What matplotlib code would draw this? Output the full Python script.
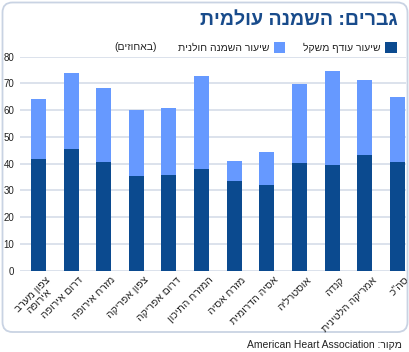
import matplotlib
matplotlib.use('Agg')
import matplotlib.pyplot as plt
from matplotlib.patches import FancyBboxPatch, Rectangle
from matplotlib.transforms import ScaledTranslation, IdentityTransform
import numpy as np

# ---- data (logical Hebrew order) ----
categories = ["צפון מערב\nאירופה", "דרום אירופה", "מזרח אירופה", "צפון אפריקה",
              "דרום אפריקה", "המזרח התיכון", "מזרח אסיה", "אסיה הדרומית",
              "אוסטרליה", "קנדה", "אמריקה הלטינית", 'סה"כ']
overweight = [41.8, 45.4, 40.6, 35.5, 35.6, 38.0, 33.4, 32.2, 40.4, 39.6, 43.1, 40.8]
obese_extra = [22.4, 28.5, 27.8, 24.6, 25.3, 34.7, 7.5, 12.2, 29.3, 35.1, 28.2, 24.3]
yticks = [0, 10, 20, 30, 40, 50, 60, 70, 80]

title = "גברים: השמנה עולמית"
legend_dark = "שיעור עודף משקל"
legend_light = "שיעור השמנה חולנית"
unit_note = "(באחוזים)"
source_label = "מקור:"
source_name = "American Heart Association"

DARK = '#0b4a8f'
LIGHT = '#6699ff'
TITLE_C = '#184b8b'
GRID = '#d6dde9'
BORDER = '#c9d3e3'
FONT = 'Liberation Sans'

_mirror = {'(': ')', ')': '('}


def rtl(s):
    """Convert logical-order Hebrew text to visual order for display."""
    return '\n'.join(''.join(_mirror.get(c, c) for c in line[::-1]) for line in s.split('\n'))


W, H = 410, 352
fig = plt.figure(figsize=(W / 100, H / 100), dpi=100)
fig.patch.set_facecolor('white')

# rounded border panel
border = FancyBboxPatch((2.5, 20), 405, 329.5,
                        boxstyle='round,pad=0,rounding_size=10',
                        transform=IdentityTransform(), facecolor='none',
                        edgecolor=BORDER, linewidth=1.3, zorder=-5)
fig.patches.append(border)

ax = fig.add_axes([20 / W, 1 - 270.7 / H, (406.5 - 20) / W, (270.7 - 56.7) / H])
ax.set_zorder(2)
ax.set_facecolor('none')
x = np.arange(len(categories))
bw = 0.46
ax.bar(x, overweight, width=bw, color=DARK, linewidth=0, zorder=3)
ax.bar(x, obese_extra, bottom=overweight, width=bw, color=LIGHT, linewidth=0, zorder=3)

ax.set_ylim(0, 80)
ax.set_xlim(-0.567, 11.28)
ax.set_yticks(yticks)
ax.yaxis.grid(True, color=GRID, linewidth=1.2, zorder=0)
ax.set_axisbelow(True)
for s in ax.spines.values():
    s.set_visible(False)
ax.tick_params(axis='y', length=0, pad=4, labelsize=7, labelcolor='#222222')
ax.tick_params(axis='x', length=0, pad=3)
for lab in ax.get_yticklabels():
    lab.set_fontfamily(FONT)

ax.set_xticks(x)
ax.set_xticklabels([rtl(c) for c in categories], rotation=45, ha='right', va='top',
                   rotation_mode='anchor', fontsize=7.5, fontfamily=FONT,
                   color='#222222', multialignment='center', linespacing=0.95)
off = ScaledTranslation(6.5 / 100, 0, fig.dpi_scale_trans)
for lab in ax.get_xticklabels():
    lab.set_transform(lab.get_transform() + off)

# title
fig.text(398 / W, 1 - 20.5 / H, rtl(title), ha='right', va='center',
         fontsize=14, fontweight='bold', color=TITLE_C, fontfamily=FONT)

# legend (manual, right-to-left)
fig.patches.append(Rectangle((385, H - 53), 12, 11, transform=IdentityTransform(),
                             facecolor=DARK, edgecolor='none'))
fig.text(381 / W, 1 - 47.5 / H, rtl(legend_dark), ha='right', va='center',
         fontsize=7.5, fontfamily=FONT, color='#222222')
fig.patches.append(Rectangle((274, H - 53), 11, 11, transform=IdentityTransform(),
                             facecolor=LIGHT, edgecolor='none'))
fig.text(270 / W, 1 - 47.5 / H, rtl(legend_light), ha='right', va='center',
         fontsize=7.5, fontfamily=FONT, color='#222222')
fig.text(157 / W, 1 - 47.5 / H, rtl(unit_note), ha='right', va='center',
         fontsize=7.5, fontfamily=FONT, color='#222222')

# source
fig.text(402 / W, 1 - 345 / H, source_name + ' ' + rtl(source_label), ha='right', va='center',
         fontsize=7.5, fontfamily=FONT, color='#222222')

fig.savefig('out.png', dpi=100, facecolor='white')
